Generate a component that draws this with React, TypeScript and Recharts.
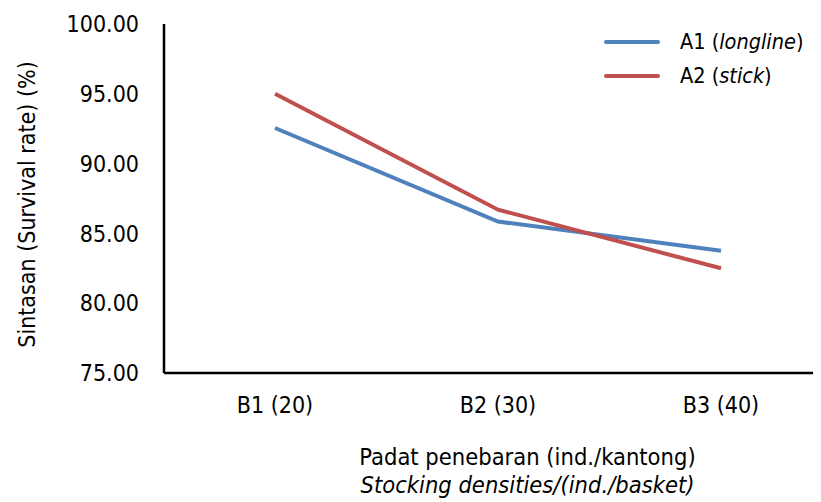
import { Line, LineChart, XAxis, YAxis } from "recharts";

const categories = ["B1 (20)", "B2 (30)", "B3 (40)"];
const longline = [92.55, 85.85, 83.75];
const stick = [95.0, 86.7, 82.5];
const yTicks = [75, 80, 85, 90, 95, 100];

const data = categories.map((name, i) => ({ name, a1: longline[i], a2: stick[i] }));

const FONT = "'Liberation Sans Narrow', 'DejaVu Sans Condensed', 'Liberation Sans', sans-serif";
const BLUE = "#4f81bd";
const RED = "#c0504d";

function LegendBox() {
  const row = (color: string, code: string, name: string) => (
    <div style={{ display: "flex", alignItems: "center", height: 34 }}>
      <div style={{ width: 56, height: 4, background: color, borderRadius: 2, marginRight: 20 }} />
      <span>
        {code} (<i>{name}</i>)
      </span>
    </div>
  );
  return (
    <div
      style={{
        position: "absolute",
        top: 17,
        left: 596,
        fontFamily: FONT,
        fontSize: 21.5,
        color: "#000",
        lineHeight: 1,
      }}
    >
      {row(BLUE, "A1", "longline")}
      {row(RED, "A2", "stick")}
    </div>
  );
}

function XTitle({ viewBox }: any) {
  const cx = viewBox.x + viewBox.width / 2 + 35;
  const y = viewBox.y + viewBox.height;
  return (
    <g fontFamily={FONT} fontSize={23.5} fill="#000" textAnchor="middle">
      <text x={cx} y={y + 62}>Padat penebaran (ind./kantong)</text>
      <text x={cx} y={y + 90} fontStyle="italic">
        Stocking densities/(ind./basket)
      </text>
    </g>
  );
}

function YTitle({ viewBox }: any) {
  const cy = viewBox.y + viewBox.height / 2 + 6;
  const x = 19;
  return (
    <text
      x={x}
      y={cy}
      transform={`rotate(-90, ${x}, ${cy})`}
      textAnchor="middle"
      dominantBaseline="central"
      fontFamily={FONT}
      fontSize={23}
      fill="#000"
    >
      Sintasan (Survival rate) (%)
    </text>
  );
}

export default function App() {
  return (
    <div style={{ position: "relative", width: 813, height: 494 }}>
      <LineChart
        width={813}
        height={494}
        data={data}
        margin={{ top: 16, right: 0, bottom: 99, left: 0 }}
        style={{ fontFamily: FONT }}
      >
        <XAxis
          dataKey="name"
          height={30}
          padding={{ left: 111, right: 100 }}
          axisLine={{ stroke: "#000", strokeWidth: 2.5 }}
          tickLine={false}
          tickSize={0}
          tickMargin={24}
          tick={{ fill: "#000", fontSize: 23, fontFamily: FONT }}
          label={<XTitle />}
        />
        <YAxis
          width={156}
          domain={[75, 100]}
          ticks={yTicks}
          interval={0}
          tickFormatter={(v: number) => v.toFixed(2)}
          axisLine={{ stroke: "#000", strokeWidth: 2.5 }}
          tickLine={false}
          tickSize={0}
          tickMargin={25}
          tick={{ fill: "#000", fontSize: 23, fontFamily: FONT }}
          label={<YTitle />}
        />
        <Line
          dataKey="a1"
          name="A1 (longline)"
          stroke={BLUE}
          strokeWidth={4}
          dot={false}
          isAnimationActive={false}
        />
        <Line
          dataKey="a2"
          name="A2 (stick)"
          stroke={RED}
          strokeWidth={4}
          dot={false}
          isAnimationActive={false}
        />
      </LineChart>
      <LegendBox />
    </div>
  );
}
